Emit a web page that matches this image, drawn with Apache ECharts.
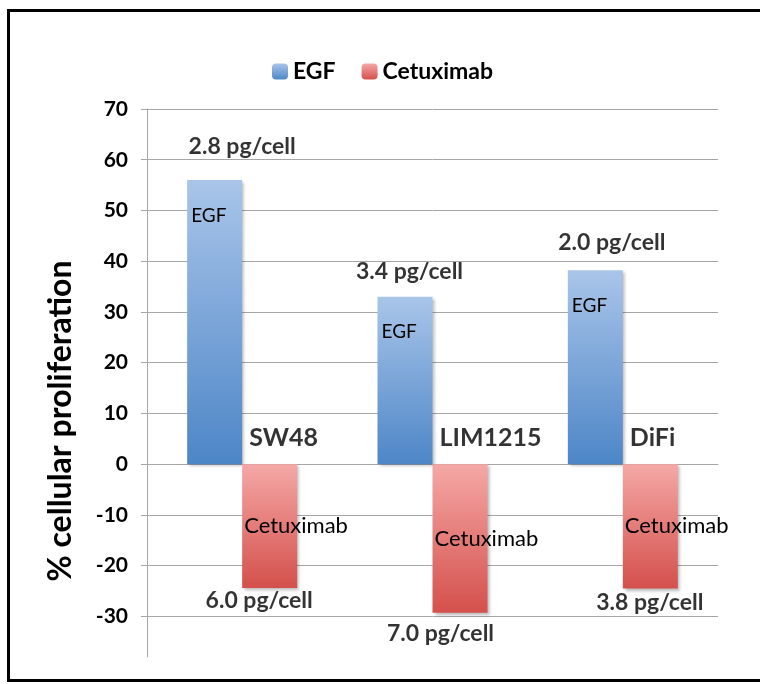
<!DOCTYPE html>
<html>
<head>
<meta charset="utf-8">
<script src="https://cdn.jsdelivr.net/npm/echarts@6/dist/echarts.min.js"></script>
<style>
  html, body { margin: 0; padding: 0; background: #fff; }
  #chart { width: 760px; height: 684px; }
</style>
</head>
<body>
<div id="chart"></div>
<script>
// Cell lines and responses (% cellular proliferation)
const cellLines = ['SW48', 'LIM1215', 'DiFi'];
const egfValues = [56, 33, 38.2];
const cetuximabValues = [-24.4, -29.3, -24.5];
const egfDoses = ['2.8 pg/cell', '3.4 pg/cell', '2.0 pg/cell'];
const cetuximabDoses = ['6.0 pg/cell', '7.0 pg/cell', '3.8 pg/cell'];
const yTicks = [-30, -20, -10, 0, 10, 20, 30, 40, 50, 60, 70];

const FONT = 'Lato, "Open Sans", sans-serif';
const INK = '#000';

const blueFill = new echarts.graphic.LinearGradient(0, 0, 0, 1, [
  { offset: 0, color: '#a9c5e9' },
  { offset: 1, color: '#4d86c7' }
]);
const redFill = new echarts.graphic.LinearGradient(0, 0, 0, 1, [
  { offset: 0, color: '#f5a8a6' },
  { offset: 1, color: '#d4504c' }
]);

const barShadow = {
  shadowColor: 'rgba(0,0,0,0.28)',
  shadowBlur: 3,
  shadowOffsetX: 2,
  shadowOffsetY: 2
};

// Where each dose caption sits relative to its bar end
const egfDoseShift = [[0, -33], [-23, -25], [-11, -28]];
const cetDoseShift = [[17, 13], [8, 21], [27, 14]];

function doseSeries(values, texts, shifts) {
  return {
    type: 'scatter',
    symbolSize: 0,
    silent: true,
    z: 5,
    data: values.map((v, i) => ({
      value: [i, v],
      label: {
        show: true,
        position: 'inside',
        offset: shifts[i],
        formatter: texts[i],
        color: INK,
        fontFamily: FONT,
        fontWeight: 'bold',
        fontSize: 23
      }
    }))
  };
}

// Cell-line names written just above the zero line, right of each group centre
const cellLineSeries = {
  type: 'scatter',
  symbolSize: 0,
  silent: true,
  z: 5,
  data: cellLines.map((name, i) => ({
    value: [i, 0],
    label: {
      show: true,
      position: [7, -26],
      align: 'left',
      verticalAlign: 'middle',
      formatter: name,
      color: INK,
      fontFamily: FONT,
      fontWeight: 'bold',
      fontSize: 25
    }
  }))
};

const chart = echarts.init(document.getElementById('chart'));
chart.setOption({
  animation: false,
  backgroundColor: '#fff',
  graphic: [{
    type: 'rect',
    shape: { x: 8.5, y: 10.5, width: 800, height: 670 },
    style: { fill: 'none', stroke: '#000', lineWidth: 3 },
    silent: true,
    z: 100
  }],
  legend: {
    top: 55,
    left: 267,
    itemWidth: 16,
    itemHeight: 16,
    itemGap: 26,
    data: ['EGF', 'Cetuximab'],
    textStyle: { fontFamily: FONT, fontWeight: 'bold', fontSize: 23, color: INK }
  },
  grid: { left: 147, right: 42, top: 109, bottom: 27, containLabel: false },
  xAxis: {
    type: 'category',
    data: cellLines,
    axisLine: { onZero: true, lineStyle: { color: '#a6a6a6', width: 1 } },
    axisTick: { show: false },
    splitLine: { show: false },
    axisLabel: { show: false }
  },
  yAxis: {
    type: 'value',
    min: -38,
    max: 70,
    name: '% cellular proliferation',
    nameLocation: 'middle',
    nameGap: 70,
    nameTextStyle: {
      fontFamily: FONT, fontWeight: 'bold', fontSize: 32, color: INK,
      padding: [0, 76, 0, 0]
    },
    axisLine: { show: true, lineStyle: { color: '#a6a6a6', width: 1 } },
    axisTick: { show: true, length: 6, customValues: yTicks, lineStyle: { color: '#a6a6a6' } },
    splitLine: { show: true, lineStyle: { color: '#a6a6a6', width: 1 } },
    axisLabel: {
      customValues: yTicks,
      margin: 19,
      fontFamily: FONT,
      fontWeight: 'bold',
      fontSize: 21,
      color: INK
    }
  },
  series: [
    {
      name: 'EGF',
      type: 'bar',
      barWidth: 55,
      barGap: '0%',
      data: egfValues,
      itemStyle: Object.assign({ color: blueFill }, barShadow),
      label: {
        show: true,
        position: 'insideTopLeft',
        distance: 4,
        offset: [0, 22],
        formatter: 'EGF',
        fontFamily: FONT,
        fontSize: 19,
        color: INK
      }
    },
    {
      name: 'Cetuximab',
      type: 'bar',
      barWidth: 55,
      barGap: '0%',
      data: cetuximabValues,
      itemStyle: Object.assign({ color: redFill }, barShadow),
      label: {
        show: true,
        position: 'insideLeft',
        distance: 2,
        formatter: 'Cetuximab',
        fontFamily: FONT,
        fontSize: 22,
        color: INK
      }
    },
    doseSeries(egfValues, egfDoses, egfDoseShift),
    doseSeries(cetuximabValues, cetuximabDoses, cetDoseShift),
    cellLineSeries
  ]
});
</script>
</body>
</html>
